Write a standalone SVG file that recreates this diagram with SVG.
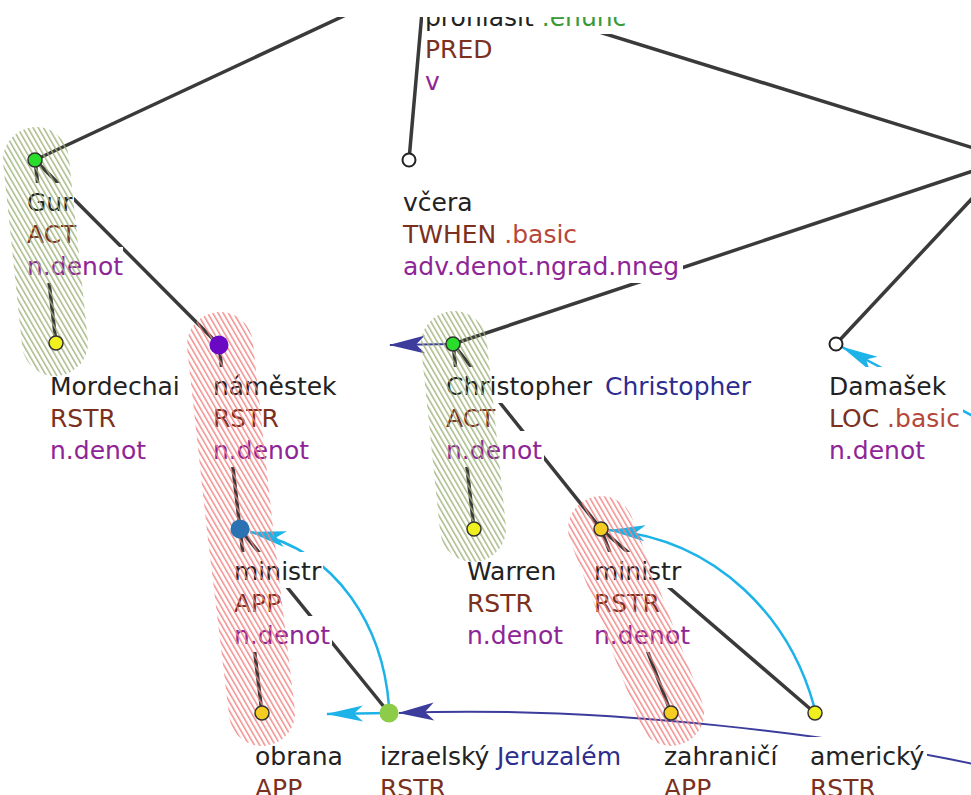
<svg xmlns="http://www.w3.org/2000/svg" width="971" height="795" viewBox="0 0 971 795">
<style>
.e{stroke:#3a3a3a;stroke-width:3.5;fill:none}
.cy{stroke:#1db3e8;stroke-width:2.5;fill:none;marker-end:url(#mc)}
.bl{stroke:#3c3c9c;stroke-width:2;fill:none;marker-end:url(#mb)}
text{font-family:"DejaVu Sans","Liberation Sans",sans-serif;font-size:25px}
.l{fill:#222}
.f{fill:#7b3020}
.b{fill:#b5483a}
.en{fill:#3a9a3a}
.p{fill:#8e2596}
.u{fill:#2d2d8f}
.bg{fill:#fff}
.hg{fill:none;stroke:url(#pg);stroke-width:66;stroke-linecap:round;stroke-linejoin:round;opacity:0.9}
.hr{fill:none;stroke:url(#pr);stroke-width:66;stroke-linecap:round;stroke-linejoin:round;opacity:0.9}
.n{stroke:#333;stroke-width:1.5}
</style>
<defs>
<clipPath id="clip"><rect x="0" y="17" width="971" height="778"/></clipPath>
<pattern id="pg" width="4.5" height="6" patternUnits="userSpaceOnUse" patternTransform="rotate(-30)"><rect width="1.5" height="6" fill="#9fb37c"/></pattern>
<pattern id="pr" width="4.5" height="6" patternUnits="userSpaceOnUse" patternTransform="rotate(-30)"><rect width="1.5" height="6" fill="#f28282"/></pattern>
<marker id="mc" viewBox="-40 -10 42 20" refX="0" refY="0" markerWidth="42" markerHeight="20" orient="auto" markerUnits="userSpaceOnUse"><path d="M1,0 L-36,-8 L-27,0 L-36,8 Z" fill="#1db3e8"/></marker>
<marker id="mb" viewBox="-40 -10 42 20" refX="0" refY="0" markerWidth="42" markerHeight="20" orient="auto" markerUnits="userSpaceOnUse"><path d="M1,0 L-35,-9 L-26,0 L-35,9 Z" fill="#3c3c9c"/></marker>
</defs>
<rect width="971" height="795" fill="#fff"/>
<g clip-path="url(#clip)">
<g id="edges">
<path class="e" d="M425,-22 L35,160"/>
<path class="e" d="M425,-22 L409,160"/>
<path class="e" d="M425,-22 L1009,159"/>
<path class="e" d="M1009,159 L453,344"/>
<path class="e" d="M1009,159 L836,344"/>
<path class="e" d="M35,160 L56,343"/>
<path class="e" d="M35,160 L219,345"/>
<path class="e" d="M219,345 L240,529"/>
<path class="e" d="M240,529 L262,713"/>
<path class="e" d="M240,529 L389,713"/>
<path class="e" d="M453,344 L474,529"/>
<path class="e" d="M453,344 L601,529"/>
<path class="e" d="M601,529 L671,713"/>
<path class="e" d="M601,529 L815,713"/>
<path class="cy" d="M389,713 L327,714"/>
<path class="cy" d="M389,706 C383,630 340,550 250,532"/>
<path class="cy" d="M814,706 C790,620 720,540 609,530"/>
<path class="cy" d="M990,425 L842,347"/>
<path class="bl" d="M453,344 L390,345"/>
<path class="bl" d="M1010,772 C850,735 600,705 399,713"/>
</g>
<g id="root">
<rect class="bg" x="423" y="-2" width="206" height="36"/>
<rect class="bg" x="423" y="30" width="71" height="36"/>
<rect class="bg" x="423" y="62" width="19" height="36"/>
<text x="425" y="26"><tspan class="l">prohlásit</tspan><tspan class="en"> .enunc</tspan></text>
<text x="425" y="58" class="f">PRED</text>
<text x="425" y="90" class="p">v</text>
</g>
<g id="gur">
<rect class="bg" x="25" y="183" width="49" height="36"/>
<rect class="bg" x="25" y="215" width="53" height="36"/>
<rect class="bg" x="25" y="247" width="98" height="36"/>
<text x="27" y="211" class="l">Gur</text>
<text x="27" y="243" class="f">ACT</text>
<text x="27" y="275" class="p">n.denot</text>
</g>
<g id="vcera">
<rect class="bg" x="401" y="183" width="73" height="36"/>
<rect class="bg" x="401" y="215" width="178" height="36"/>
<rect class="bg" x="401" y="247" width="282" height="36"/>
<text x="403" y="211" class="l">včera</text>
<text x="403" y="243"><tspan class="f">TWHEN</tspan><tspan class="b"> .basic</tspan></text>
<text x="403" y="275" class="p">adv.denot.ngrad.nneg</text>
</g>
<g id="mordechai">
<rect class="bg" x="48" y="367" width="134" height="36"/>
<rect class="bg" x="48" y="399" width="70" height="36"/>
<rect class="bg" x="48" y="431" width="100" height="36"/>
<text x="50" y="395" class="l">Mordechai</text>
<text x="50" y="427" class="f">RSTR</text>
<text x="50" y="459" class="p">n.denot</text>
</g>
<g id="namestek">
<rect class="bg" x="211" y="367" width="128" height="36"/>
<rect class="bg" x="211" y="399" width="70" height="36"/>
<rect class="bg" x="211" y="431" width="100" height="36"/>
<text x="213" y="395" class="l">náměstek</text>
<text x="213" y="427" class="f">RSTR</text>
<text x="213" y="459" class="p">n.denot</text>
</g>
<g id="christopher">
<rect class="bg" x="444" y="367" width="310" height="36"/>
<rect class="bg" x="444" y="399" width="54" height="36"/>
<rect class="bg" x="444" y="431" width="100" height="36"/>
<text x="446" y="395"><tspan class="l">Christopher</tspan><tspan class="u" x="605">Christopher</tspan></text>
<text x="446" y="427" class="f">ACT</text>
<text x="446" y="459" class="p">n.denot</text>
</g>
<g id="damasek">
<rect class="bg" x="827" y="367" width="121" height="36"/>
<rect class="bg" x="827" y="399" width="136" height="36"/>
<rect class="bg" x="827" y="431" width="100" height="36"/>
<text x="829" y="395" class="l">Damašek</text>
<text x="829" y="427"><tspan class="f">LOC</tspan><tspan class="b"> .basic</tspan></text>
<text x="829" y="459" class="p">n.denot</text>
</g>
<g id="ministr1">
<rect class="bg" x="232" y="552" width="91" height="36"/>
<rect class="bg" x="232" y="584" width="51" height="36"/>
<rect class="bg" x="232" y="616" width="100" height="36"/>
<text x="234" y="580" class="l">ministr</text>
<text x="234" y="612" class="f">APP</text>
<text x="234" y="644" class="p">n.denot</text>
</g>
<g id="warren">
<rect class="bg" x="465" y="552" width="96" height="36"/>
<rect class="bg" x="465" y="584" width="70" height="36"/>
<rect class="bg" x="465" y="616" width="100" height="36"/>
<text x="467" y="580" class="l">Warren</text>
<text x="467" y="612" class="f">RSTR</text>
<text x="467" y="644" class="p">n.denot</text>
</g>
<g id="ministr2">
<rect class="bg" x="592" y="552" width="91" height="36"/>
<rect class="bg" x="592" y="584" width="70" height="36"/>
<rect class="bg" x="592" y="616" width="100" height="36"/>
<text x="594" y="580" class="l">ministr</text>
<text x="594" y="612" class="f">RSTR</text>
<text x="594" y="644" class="p">n.denot</text>
</g>
<g id="obrana">
<rect class="bg" x="253" y="737" width="92" height="36"/>
<rect class="bg" x="253" y="769" width="51" height="36"/>
<text x="255" y="765" class="l">obrana</text>
<text x="255" y="797" class="f">APP</text>
</g>
<g id="izraelsky">
<rect class="bg" x="378" y="737" width="248" height="36"/>
<rect class="bg" x="378" y="769" width="70" height="36"/>
<text x="380" y="765"><tspan class="l">izraelský</tspan><tspan class="u" x="497">Jeruzalém</tspan></text>
<text x="380" y="797" class="f">RSTR</text>
</g>
<g id="zahranici">
<rect class="bg" x="662" y="737" width="117" height="36"/>
<rect class="bg" x="662" y="769" width="51" height="36"/>
<text x="664" y="765" class="l">zahraničí</text>
<text x="664" y="797" class="f">APP</text>
</g>
<g id="americky">
<rect class="bg" x="808" y="737" width="119" height="36"/>
<rect class="bg" x="808" y="769" width="70" height="36"/>
<text x="810" y="765" class="l">americký</text>
<text x="810" y="797" class="f">RSTR</text>
</g>
<g id="groups">
<path class="hg" d="M36,160 L55,343"/>
<path class="hr" d="M220,345 L240,529 L262,713"/>
<path class="hg" d="M454,344 L473,529"/>
<path class="hr" d="M601,529 L671,713"/>
</g>
<g id="nodes">
<circle class="n" cx="35" cy="160" r="7" fill="#2bdd2b"/>
<circle cx="409" cy="160" r="6.5" fill="#fff" stroke="#222" stroke-width="2"/>
<circle class="n" cx="56" cy="343" r="7" fill="#f0f01e"/>
<circle cx="219" cy="345" r="9.5" fill="#6a08c4"/>
<circle class="n" cx="453" cy="344" r="7" fill="#2bdd2b"/>
<circle cx="836" cy="344" r="6.5" fill="#fff" stroke="#222" stroke-width="2"/>
<circle cx="240" cy="529" r="9.5" fill="#2a72b2"/>
<circle class="n" cx="474" cy="529" r="7" fill="#f0f01e"/>
<circle class="n" cx="601" cy="529" r="7" fill="#f5cc22"/>
<circle class="n" cx="262" cy="713" r="7" fill="#f5cc22"/>
<circle cx="389" cy="713" r="9.5" fill="#8ccc48"/>
<circle class="n" cx="671" cy="713" r="7" fill="#f5cc22"/>
<circle class="n" cx="815" cy="713" r="7" fill="#f0f01e"/>
</g>
</g>
</svg>
